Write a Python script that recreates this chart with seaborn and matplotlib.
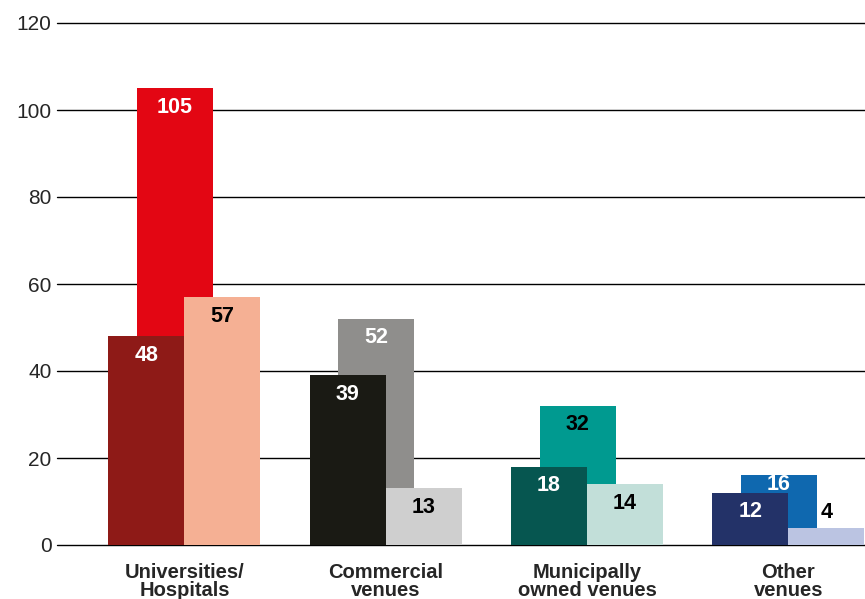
import numpy as np
import pandas as pd
import matplotlib
matplotlib.use("Agg")
import matplotlib.pyplot as plt
import seaborn as sns

categories = ["Universities/\nHospitals", "Commercial\nvenues", "Municipally\nowned venues", "Other\nvenues"]
total_vals = [105, 52, 32, 16]
first_vals = [48, 39, 18, 12]
second_vals = [57, 13, 14, 4]
yticks = [0, 20, 40, 60, 80, 100, 120]

total_colors = ["#E30613", "#8F8E8C", "#009A90", "#0F68AF"]
first_colors = ["#8E1A17", "#1A1A14", "#065650", "#233268"]
second_colors = ["#F5B094", "#CFCFCF", "#C2DFD9", "#BBC4E2"]
total_text = ["white", "white", "black", "white"]
first_text = ["white", "white", "white", "white"]
second_text = ["black", "black", "black", "black"]

sns.set_style("white")
plt.rcParams["font.family"] = ["Liberation Sans", "DejaVu Sans"]

fig = plt.figure(figsize=(8.65, 5.99), dpi=100)
ax = fig.add_axes([57 / 865, 54 / 599, 808 / 865, 522 / 599])

W = 0.3775
OFF_TOTAL, OFF_FIRST, OFF_SECOND = 0.0, -0.1416, 0.236
idx = np.arange(len(categories))

# grid lines
for t in yticks:
    ax.axhline(t, color="black", lw=1.0, zorder=0, clip_on=False)


def draw(vals, colors, off):
    df = pd.DataFrame({"pos": idx + off, "val": vals, "cat": categories})
    sns.barplot(data=df, x="pos", y="val", hue="cat", palette=dict(zip(categories, colors)),
                native_scale=True, width=W, linewidth=0, saturation=1, legend=False,
                ax=ax, zorder=2)


draw(total_vals, total_colors, OFF_TOTAL)
draw(first_vals, first_colors, OFF_FIRST)
draw(second_vals, second_colors, OFF_SECOND)

ax.set_ylim(0, 120)
ax.set_xlim(-0.586, 3.428)

PX = 522 / 120  # pixels per unit
PT = 72 / 100   # points per pixel


def label(vals, off, colors, guard=None):
    for i, v in enumerate(vals):
        top_px = v * PX
        if top_px < 30:
            dy = 15
        else:
            dy = -19
            if guard is not None:
                g = guard[i] * PX
                if top_px - 19 < g + 8:
                    dy = (g + 8) - top_px
        ax.annotate(str(v), xy=(i + off, v), xytext=(0, dy * PT), textcoords="offset points",
                    ha="center", va="center", fontsize=15.5, fontweight="bold",
                    color=colors[i], zorder=5)


label(total_vals, OFF_TOTAL, total_text, guard=first_vals)
label(first_vals, OFF_FIRST, first_text)
label(second_vals, OFF_SECOND, second_text)

ax.set_yticks(yticks)
ax.set_yticklabels([str(t) for t in yticks], fontsize=15)
group_center = (OFF_FIRST - W / 2 + OFF_SECOND + W / 2) / 2
ax.set_xticks(idx + group_center)
ax.set_xticklabels(categories, fontsize=14.5, fontweight="bold", linespacing=0.9)
ax.tick_params(axis="both", length=0)
ax.tick_params(axis="y", pad=4)
ax.tick_params(axis="x", pad=13)
ax.set_xlabel("")
ax.set_ylabel("")
for s in ax.spines.values():
    s.set_visible(False)

fig.savefig("out.png", dpi=100)
